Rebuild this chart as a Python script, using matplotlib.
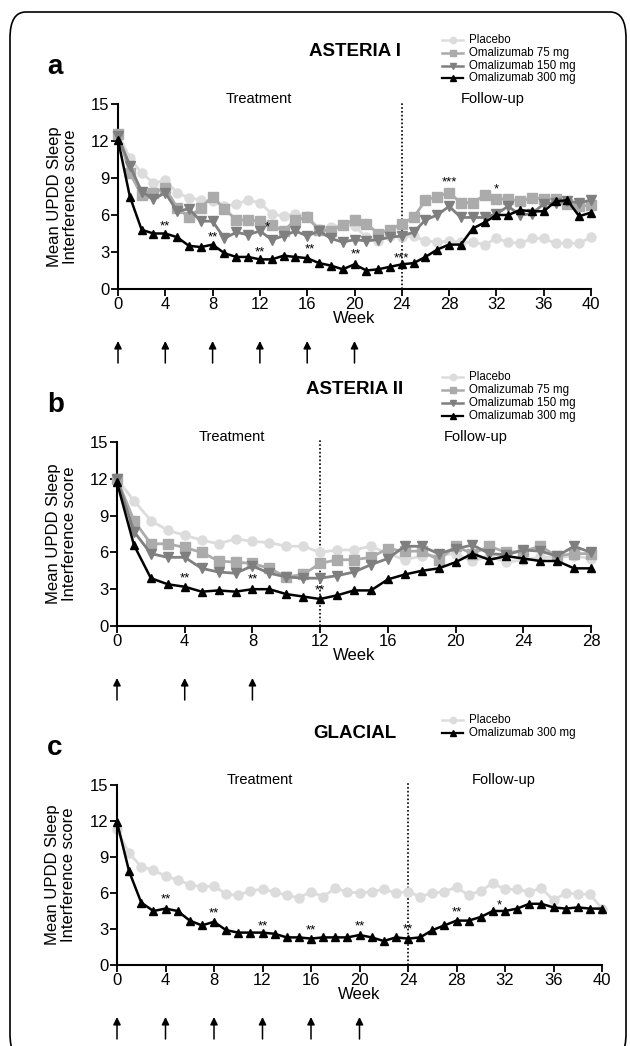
import matplotlib
matplotlib.use("Agg")
import matplotlib.pyplot as plt
from matplotlib.lines import Line2D
from matplotlib.patches import FancyBboxPatch
import numpy as np

plt.rcParams['font.family'] = ['Liberation Sans', 'DejaVu Sans']

# ---------------- data ----------------
weeks_a = list(range(0, 41))
placebo_a = [12.6, 10.6, 9.4, 8.6, 8.8, 7.8, 7.4, 7.2, 7.1, 6.7, 6.9, 7.2, 7.0, 6.1, 5.9, 6.1, 5.9, 4.9, 5.0, 5.2,
             5.1, 4.2, 3.9, 4.3, 4.2, 4.3, 3.9, 3.8, 3.9, 3.8, 3.8, 3.6, 4.1, 3.8, 3.7, 4.1, 4.1, 3.7, 3.7, 3.7, 4.2]
oma75_a = [12.6, 9.4, 7.6, 7.8, 8.2, 6.6, 5.8, 6.6, 7.5, 6.5, 5.6, 5.6, 5.5, 5.2, 4.7, 5.6, 5.8, 4.8, 4.7, 5.2,
           5.6, 5.3, 4.5, 4.8, 5.3, 5.8, 7.2, 7.5, 7.8, 7.0, 7.0, 7.6, 7.3, 7.3, 7.1, 7.4, 7.3, 7.3, 6.9, 6.7, 6.8]
oma150_a = [12.4, 10.0, 7.9, 7.3, 7.8, 6.3, 6.5, 5.5, 5.5, 4.1, 4.6, 4.4, 4.7, 4.0, 4.3, 4.7, 4.3, 4.7, 4.1, 3.8,
            4.0, 3.9, 4.0, 4.2, 4.3, 4.6, 5.6, 6.0, 6.7, 5.8, 5.8, 5.8, 6.1, 6.7, 6.0, 6.1, 6.9, 7.0, 7.1, 7.0, 7.2]
oma300_a = [12.1, 7.5, 4.8, 4.5, 4.5, 4.2, 3.5, 3.4, 3.6, 2.9, 2.6, 2.6, 2.4, 2.4, 2.7, 2.6, 2.5, 2.1, 1.9, 1.6,
            2.0, 1.5, 1.6, 1.8, 2.0, 2.1, 2.6, 3.2, 3.6, 3.6, 4.9, 5.4, 6.0, 6.0, 6.4, 6.3, 6.3, 7.1, 7.2, 5.9, 6.2]
sig_a = [(4, 5.1, '**'), (8, 4.2, '**'), (12, 3.0, '**'), (12.6, 5.0, '*'), (16.2, 3.2, '**'),
         (20.1, 2.8, '**'), (24, 2.5, '***'), (28, 8.6, '***'), (32, 8.1, '*')]

weeks_b = list(range(0, 29))
placebo_b = [12.0, 10.2, 8.6, 7.8, 7.4, 7.0, 6.7, 7.1, 6.9, 6.8, 6.5, 6.5, 6.0, 6.2, 6.2, 6.5, 5.9, 5.4, 5.7, 5.8,
             5.9, 5.3, 5.7, 5.2, 5.4, 5.6, 5.6, 5.7, 5.5]
oma75_b = [12.0, 8.6, 6.7, 6.7, 6.4, 6.0, 5.3, 5.2, 5.1, 4.7, 4.0, 4.2, 5.1, 5.4, 5.4, 5.6, 6.3, 6.1, 6.1, 5.4,
           6.5, 5.9, 6.5, 6.0, 6.1, 6.5, 5.7, 5.9, 5.9]
oma150_b = [12.0, 7.7, 5.9, 5.6, 5.6, 4.7, 4.4, 4.3, 4.9, 4.3, 4.0, 3.9, 3.9, 4.1, 4.4, 5.0, 5.5, 6.5, 6.5, 5.9,
            6.3, 6.6, 5.9, 5.8, 6.2, 6.1, 5.7, 6.5, 6.0]
oma300_b = [11.7, 6.6, 3.9, 3.4, 3.2, 2.8, 2.9, 2.8, 3.0, 3.0, 2.6, 2.4, 2.2, 2.5, 2.9, 2.9, 3.8, 4.2, 4.5, 4.7,
            5.2, 5.9, 5.4, 5.7, 5.5, 5.3, 5.3, 4.7, 4.7]
sig_b = [(4, 3.9, '**'), (8, 3.8, '**'), (12, 2.9, '**')]

weeks_c = list(range(0, 41))
placebo_c = [11.3, 9.3, 8.2, 7.9, 7.4, 7.1, 6.7, 6.5, 6.6, 5.9, 5.8, 6.2, 6.3, 6.1, 5.8, 5.6, 6.1, 5.7, 6.4, 6.1,
             6.0, 6.1, 6.3, 6.0, 6.1, 5.7, 6.0, 6.1, 6.5, 5.8, 6.2, 6.8, 6.3, 6.3, 6.1, 6.4, 5.4, 6.0, 5.9, 5.9, 4.7]
oma300_c = [11.9, 7.8, 5.2, 4.5, 4.7, 4.5, 3.7, 3.3, 3.6, 2.9, 2.7, 2.7, 2.7, 2.6, 2.3, 2.3, 2.2, 2.3, 2.3, 2.3,
            2.5, 2.3, 2.0, 2.3, 2.2, 2.3, 2.9, 3.3, 3.7, 3.7, 4.0, 4.5, 4.5, 4.7, 5.1, 5.1, 4.8, 4.7, 4.8, 4.7, 4.7]
sig_c = [(4, 5.5, '**'), (8, 4.3, '**'), (12, 3.2, '**'), (16, 2.9, '**'), (20, 3.2, '**'),
         (24, 3.0, '**'), (28, 4.4, '**'), (31.5, 5.0, '*')]

series_names = ['Placebo', 'Omalizumab 75 mg', 'Omalizumab 150 mg', 'Omalizumab 300 mg']
titles = ['ASTERIA I', 'ASTERIA II', 'GLACIAL']
panel_letters = ['a', 'b', 'c']
dose_weeks_a = [0, 4, 8, 12, 16, 20]
dose_weeks_b = [0, 4, 8]
dose_weeks_c = [0, 4, 8, 12, 16, 20]
yticks = [0, 3, 6, 9, 12, 15]

# ---------------- styles ----------------
STY = {
    'Placebo': dict(color='#dcdcdc', marker='o', ms=6.5, lw=2.0),
    'Omalizumab 75 mg': dict(color='#ababab', marker='s', ms=6.5, lw=2.0),
    'Omalizumab 150 mg': dict(color='#7f7f7f', marker='v', ms=6.5, lw=2.0),
    'Omalizumab 300 mg': dict(color='#000000', marker='^', ms=5.5, lw=1.8),
}

W, H = 630, 1046
fig = plt.figure(figsize=(W / 100, H / 100), dpi=100)

def fx(px):
    return px / W

def fy(py):
    return 1 - py / H

# rounded frame
frame = FancyBboxPatch((fx(10), fy(1060)), fx(626) - fx(10), fy(12) - fy(1060),
                       boxstyle='round,pad=0,rounding_size=0.025', transform=fig.transFigure,
                       fill=False, lw=1.2, ec='black', clip_on=False)
fig.patches.append(frame)

panels = [
    dict(l=118, r=591, t=104, b=289, xmax=40, xt=list(range(0, 41, 4)), split=24,
         treat_x=11.9, fol_x=31.7, weeks=weeks_a, dose=dose_weeks_a, sig=sig_a,
         data=[placebo_a, oma75_a, oma150_a, oma300_a], names=series_names,
         leg_y=[40, 53, 65.5, 78]),
    dict(l=117, r=591, t=442, b=626, xmax=28, xt=list(range(0, 29, 4)), split=12,
         treat_x=6.8, fol_x=21.2, weeks=weeks_b, dose=dose_weeks_b, sig=sig_b,
         data=[placebo_b, oma75_b, oma150_b, oma300_b], names=series_names,
         leg_y=[377, 390, 403, 416]),
    dict(l=117, r=602, t=785, b=965, xmax=40, xt=list(range(0, 41, 4)), split=24,
         treat_x=11.8, fol_x=31.9, weeks=weeks_c, dose=dose_weeks_c, sig=sig_c,
         data=[placebo_c, oma300_c], names=[series_names[0], series_names[3]],
         leg_y=[720, 733]),
]

for i, p in enumerate(panels):
    ax = fig.add_axes([fx(p['l']), fy(p['b']), fx(p['r']) - fx(p['l']), (p['b'] - p['t']) / H])
    for name, vals in zip(p['names'], p['data']):
        s = STY[name]
        ax.plot(p['weeks'], vals, color=s['color'], marker=s['marker'], ms=s['ms'], lw=s['lw'],
                mec=s['color'], mfc=s['color'], clip_on=False, zorder=3 if name != 'Placebo' else 2)
    ax.set_xlim(0, p['xmax'])
    ax.set_ylim(0, 15)
    ax.set_xticks(p['xt'])
    ax.set_yticks(yticks)
    for sp in ['top', 'right']:
        ax.spines[sp].set_visible(False)
    for sp in ['left', 'bottom']:
        ax.spines[sp].set_linewidth(1.5)
    ax.tick_params(direction='out', length=5, width=1.3, labelsize=12, pad=1)
    ax.set_xlabel('Week', fontsize=12, labelpad=-1)
    ax.set_ylabel('Mean UPDD Sleep\nInterference score', fontsize=12, linespacing=1.05)
    ax.yaxis.set_label_coords(-0.085, 0.5)
    ax.patch.set_alpha(0)

    ax.plot([p['split'], p['split']], [0, 15.15], ls=(0, (1, 1.3)), color='black', lw=1.2,
            clip_on=False, zorder=1)
    ax.text(p['treat_x'], 15.4, 'Treatment', ha='center', va='center', fontsize=10.5)
    ax.text(p['fol_x'], 15.4, 'Follow-up', ha='center', va='center', fontsize=10.5)

    for (xw, yv, txt) in p['sig']:
        ax.text(xw, yv, txt, ha='center', va='center', fontsize=9.5, zorder=5)

    hpx = p['b'] - p['t']
    tip = -52 / hpx
    base = -74 / hpx
    for dw in p['dose']:
        ax.annotate('', xy=(dw, tip), xytext=(dw, base), xycoords=ax.get_xaxis_transform(),
                    textcoords=ax.get_xaxis_transform(),
                    arrowprops=dict(arrowstyle='-|>', color='black', lw=1.1, mutation_scale=11,
                                    shrinkA=0, shrinkB=0), annotation_clip=False)

    fig.text(fx(47), fy(p['t'] - 37), panel_letters[i], fontsize=20, fontweight='bold',
             ha='left', va='center')
    fig.text(fx(355), fy(p['t'] - 52), titles[i], fontsize=13.5, fontweight='bold',
             ha='center', va='center')

    for name, ly in zip(p['names'], p['leg_y']):
        s = STY[name]
        fig.add_artist(Line2D([fx(442), fx(463)], [fy(ly), fy(ly)], transform=fig.transFigure,
                              color=s['color'], lw=s['lw'] * 0.9))
        fig.add_artist(Line2D([fx(452.5)], [fy(ly)], transform=fig.transFigure, color=s['color'],
                              marker=s['marker'], ms=s['ms'] * 0.7, mec=s['color'], mfc=s['color']))
        fig.text(fx(469), fy(ly), name, fontsize=8.3, ha='left', va='center')

fig.savefig('out.png', dpi=100)
